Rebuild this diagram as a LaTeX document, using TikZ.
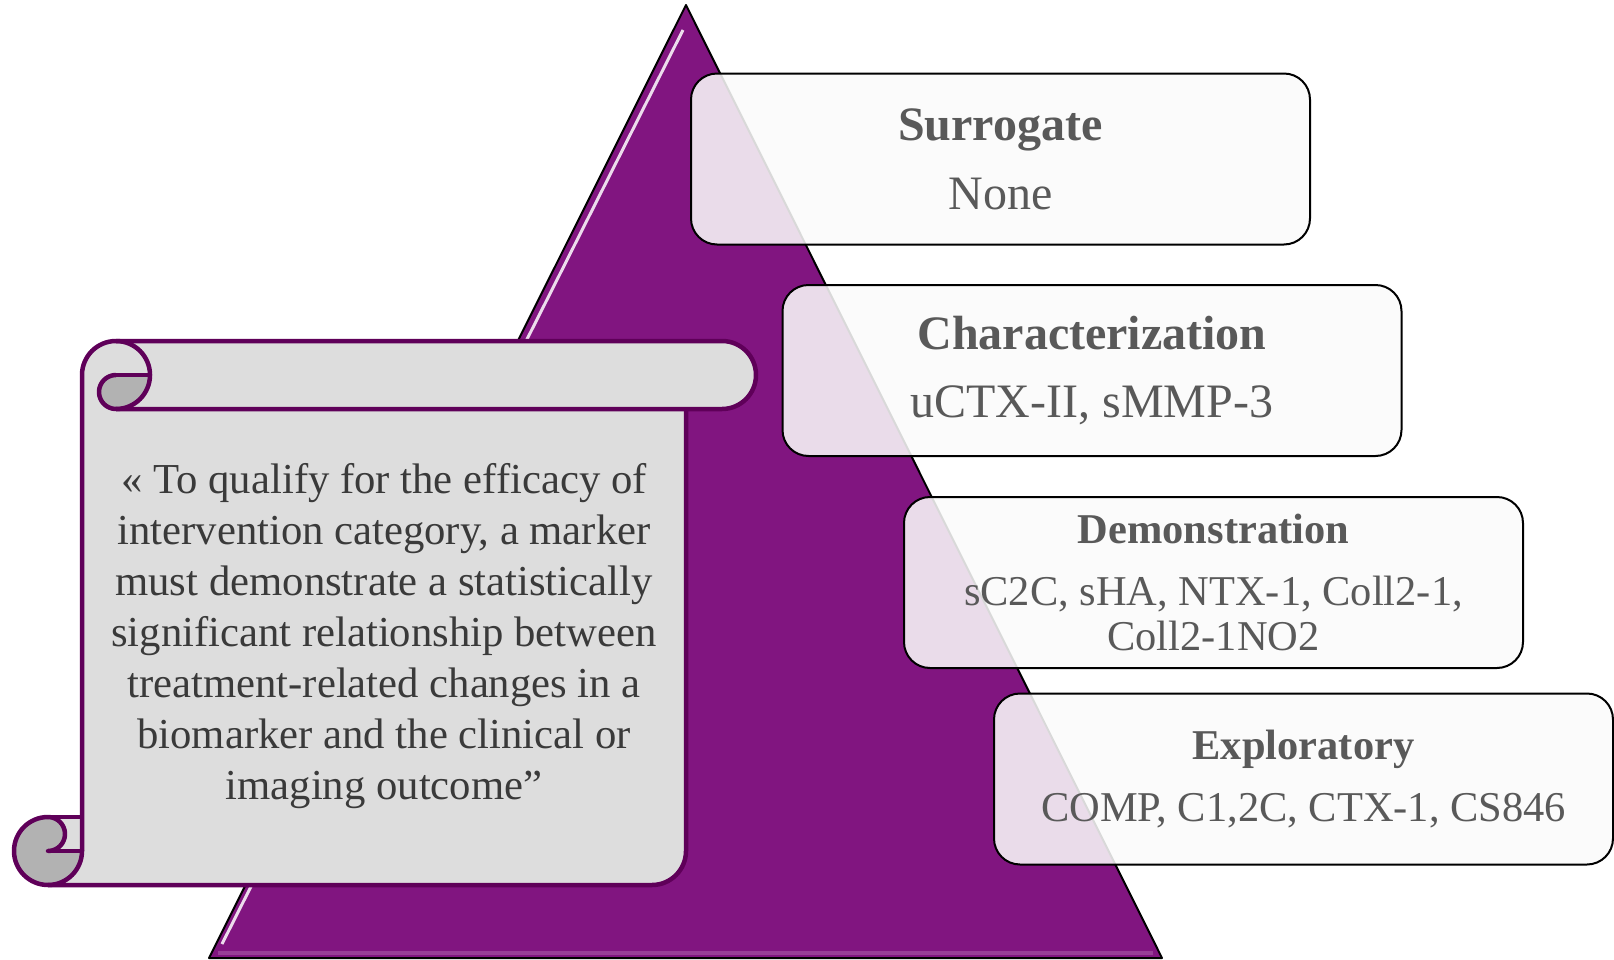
\documentclass[tikz,border=0pt]{standalone}
\usepackage{fontspec}
\setmainfont{Liberation Serif}
\definecolor{pyrpurple}{HTML}{811580}
\definecolor{scrollline}{HTML}{5F0059}
\definecolor{scrollfill}{HTML}{DDDDDD}
\definecolor{curlfill}{HTML}{B2B2B2}
\definecolor{tiertext}{HTML}{595959}
\definecolor{quotetext}{HTML}{3A3A3A}
\tikzset{
  tier/.style={draw=black, line width=0.2mm, rounded corners=2.6mm, fill=white!98!black, fill opacity=0.87, text opacity=1, text=tiertext, minimum width=61.9mm, minimum height=17.1mm, align=center, inner sep=0pt},
  bigtier/.style={tier, font=\fontsize{13.66}{15.7}\selectfont},
  smalltier/.style={tier, font=\fontsize{12.08}{12.8}\selectfont},
  scrollpen/.style={draw=scrollline, line width=0.45mm, line join=round},
  quote/.style={text=quotetext, align=center, font=\fontsize{12.15}{14.5}\selectfont},
}
\begin{document}
\begin{tikzpicture}[x=0.1mm,y=-0.1mm]
\useasboundingbox (0,0) rectangle (1614,960);
\filldraw[fill=pyrpurple, draw=black, line width=0.2mm, line join=round] (686,5) -- (1162,958) -- (209,958) -- cycle;
\draw[white, opacity=0.85, line width=0.3mm] (683,30) -- (222,944);
\draw[pyrpurple!60!white, opacity=0.45, line width=0.4mm] (218,953) -- (1153,953);

\fill[scrollfill] (82,375) -- (686,375) -- (686,851) arc[start angle=0,end angle=90,radius=34] -- (48,885) -- (48,817) -- (82,817) -- cycle;
\fill[scrollfill] (116,341) -- (722,341) arc[start angle=-90,end angle=90,radius=34] -- (116,409) -- cycle;
\fill[scrollfill] (116,375) circle[radius=34];
\fill[curlfill] (116,375) -- (150,375) arc[start angle=0,end angle=90,radius=34] -- cycle;
\fill[curlfill] (48,851) circle[radius=34];
\fill[scrollfill] (48,817) rectangle (82,851);
\filldraw[scrollpen, fill=curlfill] (116,375) arc[start angle=270,end angle=90,radius=17];
\filldraw[scrollpen, fill=curlfill] (48,851) arc[start angle=90,end angle=-90,radius=17];
\draw[scrollpen] (116,341) -- (722,341) arc[start angle=-90,end angle=90,radius=34] -- (116,409);
\draw[scrollpen] (82,851) -- (82,375) arc[start angle=180,end angle=450,radius=34];
\draw[scrollpen] (48,817) arc[start angle=270,end angle=0,radius=34];
\draw[scrollpen] (48,817) -- (82,817);
\draw[scrollpen, line cap=round] (116,375) -- (150,375);
\draw[scrollpen, line cap=round] (48,851) -- (82,851);
\draw[scrollpen] (48,885) -- (652,885) arc[start angle=90,end angle=0,radius=34] -- (686,409);

\node[quote] (quote) at (384,636) {« To qualify for the efficacy of\\ intervention category, a marker\\ must demonstrate a statistically\\ significant relationship between\\ treatment-related changes in a\\ biomarker and the clinical or\\ imaging outcome”};

\node[bigtier] (surrogate) at (1000.5,159) {\textbf{Surrogate}\\[3.9pt] None};
\node[bigtier] (charact) at (1092,370.5) {\textbf{Characterization}\\[3.9pt] uCTX-II, sMMP-3};
\node[smalltier] (demo) at (1213.5,582.5) {\textbf{Demonstration}\\[4.8pt] sC2C, sHA, NTX-1, Coll2-1,\\ Coll2-1NO2};
\node[smalltier] (explor) at (1303.5,779) {\textbf{Exploratory}\\[4.6pt] COMP, C1,2C, CTX-1, CS846};
\end{tikzpicture}
\end{document}
